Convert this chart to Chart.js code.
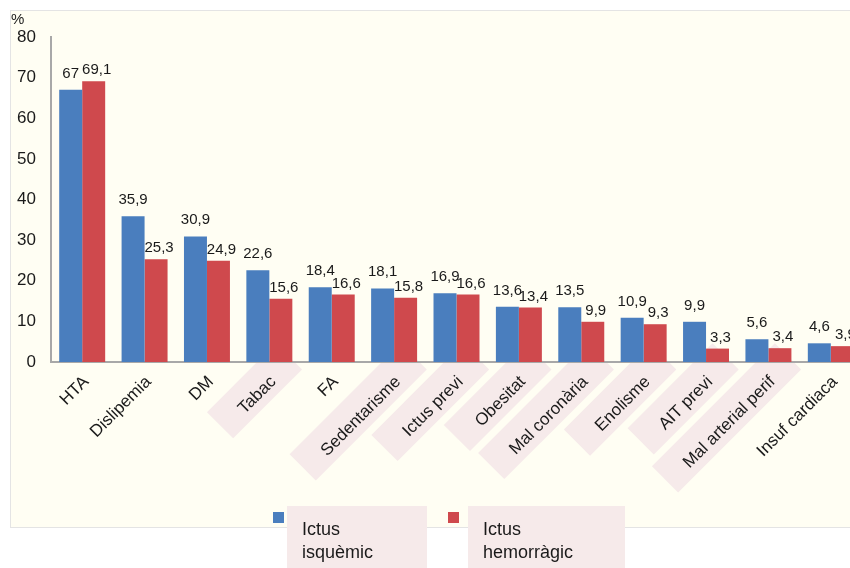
<!DOCTYPE html>
<html>
<head>
<meta charset="utf-8">
<script src="https://cdn.jsdelivr.net/npm/chart.js@4/dist/chart.umd.min.js"></script>
<style>
  html, body { margin: 0; padding: 0; background: #fff; overflow: hidden; }
  #wrap { width: 864px; height: 568px; }
</style>
</head>
<body>
<div id="wrap"><canvas id="graph-factors" width="864" height="568"></canvas></div>
<script>
const categories = ["HTA", "Dislipemia", "DM", "Tabac", "FA", "Sedentarisme", "Ictus previ", "Obesitat",
    "Mal coronària", "Enolisme", "AIT previ", "Mal arterial perif", "Insuf cardiaca"];
const ictusIsquemic = [67, 35.9, 30.9, 22.6, 18.4, 18.1, 16.9, 13.6, 13.5, 10.9, 9.9, 5.6, 4.6];
const ictusHemorragic = [69.1, 25.3, 24.9, 15.6, 16.6, 15.8, 16.6, 13.4, 9.9, 9.3, 3.3, 3.4, 3.9];
const seriesNames = [["Ictus", "isquèmic"], ["Ictus", "hemorràgic"]];
const yTicks = [0, 10, 20, 30, 40, 50, 60, 70, 80];

// labels that sit on a pink text box
const callouts = ["Tabac", "Sedentarisme", "Ictus previ", "Obesitat", "Mal coronària", "Enolisme", "AIT previ", "Mal arterial perif"];

const BLUE = '#4A7EBE';
const RED = '#CF494D';
const PINK = '#F6EAEA';
const FONT = "'Liberation Sans', Arial, sans-serif";
const X_FONT = 17;
const X_PAD = 10;
const X_SHIFT = 4;

/* Background panel + boxes behind the x labels */
const panel = {
    id: 'panel',
    beforeDraw(chart) {
        const ctx = chart.ctx;
        ctx.save();
        ctx.fillStyle = '#fff';
        ctx.fillRect(0, 0, chart.width, chart.height);
        ctx.fillStyle = '#FFFEF3';
        ctx.fillRect(10.5, 10.5, chart.width, 517);
        ctx.strokeStyle = '#E4E4E4';
        ctx.lineWidth = 1;
        ctx.strokeRect(10.5, 10.5, chart.width, 517);

        const x = chart.scales.x;
        ctx.font = X_FONT + 'px ' + FONT;
        ctx.fillStyle = PINK;
        categories.forEach((c, i) => {
            if (!callouts.includes(c)) return;
            const w = ctx.measureText(c).width;
            ctx.save();
            ctx.translate(x.getPixelForTick(i) + X_SHIFT, x.top + X_PAD);
            ctx.rotate(-Math.PI / 4);
            ctx.fillRect(-w - 30, -18.5, w + 52, 37);
            ctx.restore();
        });

        // unit label
        ctx.fillStyle = '#1a1a1a';
        ctx.font = '15px ' + FONT;
        ctx.textAlign = 'left';
        ctx.textBaseline = 'alphabetic';
        ctx.fillText('%', 11, 24);
        ctx.restore();
    }
};

/* Values above the bars */
const valueLabels = {
    id: 'valueLabels',
    afterDatasetsDraw(chart) {
        const ctx = chart.ctx;
        ctx.save();
        ctx.font = '15px ' + FONT;
        ctx.fillStyle = '#1a1a1a';
        ctx.textAlign = 'center';
        ctx.textBaseline = 'alphabetic';
        chart.data.datasets.forEach((ds, d) => {
            chart.getDatasetMeta(d).data.forEach((bar, i) => {
                const txt = String(ds.data[i]).replace('.', ',');
                if (d === 0) ctx.fillText(txt, bar.x, bar.y - 12);
                else ctx.fillText(txt, bar.x + 3, bar.y - 7);
            });
        });
        ctx.restore();
    }
};

/* Legend */
const legendBoxes = {
    id: 'legendBoxes',
    afterDraw(chart) {
        const ctx = chart.ctx;
        const items = [
            { sq: 273, box: 287, bw: 140, col: BLUE },
            { sq: 448, box: 468, bw: 157, col: RED }
        ];
        ctx.save();
        items.forEach((it, k) => {
            ctx.fillStyle = PINK;
            ctx.fillRect(it.box, 506, it.bw, 62);
            ctx.fillStyle = it.col;
            ctx.fillRect(it.sq, 512, 11, 11);
            ctx.fillStyle = '#1a1a1a';
            ctx.font = '18px ' + FONT;
            ctx.textAlign = 'left';
            ctx.fillText(seriesNames[k][0], it.box + 15, 535);
            ctx.fillText(seriesNames[k][1], it.box + 15, 558);
        });
        ctx.restore();
    }
};

const ctx = document.getElementById('graph-factors').getContext('2d');
const myChart = new Chart(ctx, {
    type: 'bar',
    data: {
        labels: categories,
        datasets: [{
            label: seriesNames[0].join(' '),
            data: ictusIsquemic,
            backgroundColor: BLUE,
            categoryPercentage: 0.737,
            barPercentage: 1.0,
        }, {
            label: seriesNames[1].join(' '),
            data: ictusHemorragic,
            backgroundColor: RED,
            categoryPercentage: 0.737,
            barPercentage: 1.0,
        }]
    },
    options: {
        responsive: false,
        animation: false,
        devicePixelRatio: 1,
        layout: { padding: { left: 10, top: 37, right: 2, bottom: 0 } },
        scales: {
            y: {
                min: 0,
                max: 80,
                afterBuildTicks: (s) => { s.ticks = yTicks.map(v => ({ value: v })); },
                afterFit: (s) => { s.width = 41; },
                grid: { display: false, drawTicks: false },
                border: { color: '#A8A8A8', width: 2 },
                ticks: { color: '#1a1a1a', padding: 15, font: { family: FONT, size: 17 } }
            },
            x: {
                afterFit: (s) => { s.height = 206; },
                grid: { display: false, drawTicks: false },
                border: { color: '#A8A8A8', width: 2 },
                ticks: {
                    autoSkip: false,
                    minRotation: 45,
                    maxRotation: 45,
                    padding: X_PAD,
                    labelOffset: X_SHIFT,
                    color: '#1a1a1a',
                    font: { family: FONT, size: X_FONT }
                }
            }
        },
        plugins: {
            legend: { display: false },
            tooltip: { enabled: false }
        }
    },
    plugins: [panel, valueLabels, legendBoxes]
});
</script>
</body>
</html>
